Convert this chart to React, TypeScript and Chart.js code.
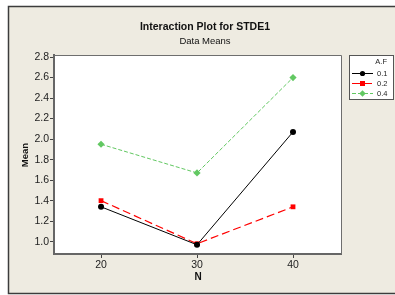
import React, { useEffect, useRef } from "react";
import { Chart, registerables } from "chart.js";

Chart.register(...registerables);

const xValues = [20, 30, 40];
const seriesLabels = ["0.1", "0.2", "0.4"];
const series01 = [1.34, 0.97, 2.07];
const series02 = [1.40, 0.98, 1.34];
const series04 = [1.95, 1.67, 2.60];
const yTicks = [1.0, 1.2, 1.4, 1.6, 1.8, 2.0, 2.2, 2.4, 2.6, 2.8];
const xTicks = [20, 30, 40];

const FONT = "'Liberation Sans', Arial, sans-serif";
const GREEN = "#62c862";

const decorPlugin = {
  id: "decor",
  beforeDraw(chart: any) {
    const ctx = chart.ctx;
    ctx.save();
    ctx.fillStyle = "#ffffff";
    ctx.fillRect(0, 0, chart.width, chart.height);
    ctx.fillStyle = "#eeebe1";
    ctx.fillRect(8, 6, chart.width - 8, 288 - 0);
    ctx.strokeStyle = "#3c3c3c";
    ctx.lineWidth = 1.5;
    ctx.beginPath();
    ctx.moveTo(chart.width + 2, 6.5);
    ctx.lineTo(8.5, 6.5);
    ctx.lineTo(8.5, 293.5);
    ctx.lineTo(chart.width + 2, 293.5);
    ctx.stroke();
    const a = chart.chartArea;
    ctx.fillStyle = "#ffffff";
    ctx.fillRect(a.left, a.top, a.right - a.left, a.bottom - a.top);
    ctx.restore();
  },
  afterDraw(chart: any) {
    const ctx = chart.ctx;
    const a = chart.chartArea;
    ctx.save();
    // plot border top/right
    ctx.strokeStyle = "#6e6e6e";
    ctx.lineWidth = 1;
    ctx.beginPath();
    ctx.moveTo(a.left, a.top + 0.5);
    ctx.lineTo(a.right + 0.5, a.top + 0.5);
    ctx.lineTo(a.right + 0.5, a.bottom);
    ctx.stroke();
    // titles
    ctx.fillStyle = "#111";
    ctx.textAlign = "center";
    ctx.textBaseline = "middle";
    ctx.font = `bold 10.5px ${FONT}`;
    ctx.fillText("Interaction Plot for STDE1", 205, 27);
    ctx.font = `9.5px ${FONT}`;
    ctx.fillText("Data Means", 205, 41);
    ctx.font = `bold 10px ${FONT}`;
    ctx.fillText("N", 198, 277);
    ctx.save();
    ctx.translate(25, 155);
    ctx.rotate(-Math.PI / 2);
    ctx.font = `bold 9.5px ${FONT}`;
    ctx.fillText("Mean", 0, 0);
    ctx.restore();
    // legend
    const lx = 349, ly = 55, lw = 44, lh = 44;
    ctx.fillStyle = "#ffffff";
    ctx.fillRect(lx, ly, lw, lh);
    ctx.strokeStyle = "#555";
    ctx.lineWidth = 1;
    ctx.strokeRect(lx + 0.5, ly + 0.5, lw, lh);
    ctx.fillStyle = "#222";
    ctx.font = `7.5px ${FONT}`;
    ctx.textAlign = "right";
    ctx.fillText("A.F", 387, 61.5);
    const ds = chart.data.datasets;
    const ys = [73, 83, 93];
    ds.forEach((d: any, i: number) => {
      const y = ys[i];
      ctx.strokeStyle = d.borderColor;
      ctx.lineWidth = 1;
      ctx.setLineDash(d.borderDash || []);
      ctx.beginPath();
      ctx.moveTo(352, y + 0.5);
      ctx.lineTo(373, y + 0.5);
      ctx.stroke();
      ctx.setLineDash([]);
      ctx.fillStyle = d.borderColor;
      const cx = 362.5, cy = y + 0.5;
      if (d.pointStyle === "circle") {
        ctx.beginPath();
        ctx.arc(cx, cy, 2.6, 0, Math.PI * 2);
        ctx.fill();
      } else if (d.pointStyle === "rect") {
        ctx.fillRect(cx - 2.5, cy - 2.5, 5, 5);
      } else {
        ctx.beginPath();
        ctx.moveTo(cx, cy - 3.2);
        ctx.lineTo(cx + 3.2, cy);
        ctx.lineTo(cx, cy + 3.2);
        ctx.lineTo(cx - 3.2, cy);
        ctx.closePath();
        ctx.fill();
      }
      ctx.fillStyle = "#222";
      ctx.textAlign = "left";
      ctx.font = `7.5px ${FONT}`;
      ctx.fillText(seriesLabels[i], 377, y + 0.5);
    });
    ctx.restore();
  },
};

export default function App() {
  const ref = useRef<HTMLCanvasElement>(null);
  useEffect(() => {
    document.body.style.margin = "0";
    const toPts = (vals: number[]) => vals.map((v, i) => ({ x: xValues[i], y: v }));
    const chart = new Chart(ref.current!, {
      type: "line",
      data: {
        datasets: [
          {
            label: seriesLabels[0],
            data: toPts(series01),
            borderColor: "#000000",
            backgroundColor: "#000000",
            borderWidth: 1,
            pointStyle: "circle",
            pointRadius: 3,
            pointBorderWidth: 0,
          },
          {
            label: seriesLabels[1],
            data: toPts(series02),
            borderColor: "#ff0000",
            backgroundColor: "#ff0000",
            borderWidth: 1.2,
            borderDash: [8, 4],
            pointStyle: "rect",
            pointRadius: 3.4,
            pointBorderWidth: 0,
          },
          {
            label: seriesLabels[2],
            data: toPts(series04),
            borderColor: GREEN,
            backgroundColor: GREEN,
            borderWidth: 1,
            borderDash: [4, 2],
            pointStyle: "rectRot",
            pointRadius: 3.6,
            pointBorderWidth: 0,
          },
        ] as any,
      },
      options: {
        animation: false,
        responsive: false,
        devicePixelRatio: 1,
        layout: { padding: { left: 0, top: 55, right: 54, bottom: 0 } },
        plugins: { legend: { display: false }, tooltip: { enabled: false }, title: { display: false } },
        scales: {
          x: {
            type: "linear",
            min: 15.1,
            max: 45,
            afterBuildTicks: (s: any) => {
              s.ticks = xTicks.map((v) => ({ value: v }));
            },
            afterFit: (s: any) => {
              s.height = 41;
            },
            ticks: {
              color: "#222",
              font: { family: FONT, size: 10.5 },
              padding: 1,
              callback: (v: any) => String(v),
            },
            grid: { display: true, drawOnChartArea: false, drawTicks: true, tickLength: 4, color: "#444" },
            border: { display: true, color: "#666", width: 2 },
          },
          y: {
            type: "linear",
            min: 0.88,
            max: 2.82,
            afterBuildTicks: (s: any) => {
              s.ticks = yTicks.map((v) => ({ value: v }));
            },
            afterFit: (s: any) => {
              s.width = 54;
            },
            ticks: {
              color: "#222",
              font: { family: FONT, size: 10.5 },
              padding: 1,
              callback: (v: any) => Number(v).toFixed(1),
            },
            grid: { display: true, drawOnChartArea: false, drawTicks: true, tickLength: 4, color: "#444" },
            border: { display: true, color: "#666", width: 2 },
          },
        },
      },
      plugins: [decorPlugin],
    } as any);
    return () => chart.destroy();
  }, []);
  return <canvas ref={ref} width={395} height={295} style={{ display: "block" }} />;
}
